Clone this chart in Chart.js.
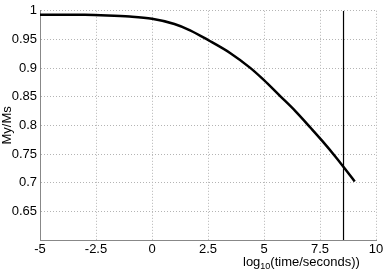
<!DOCTYPE html>
<html>
<head>
<meta charset="utf-8">
<script src="https://cdn.jsdelivr.net/npm/chart.js@4/dist/chart.umd.min.js"></script>
<style>
  html, body { margin: 0; padding: 0; background: #fff; }
  #wrap { width: 386px; height: 270px; }
</style>
</head>
<body>
<div id="wrap"><canvas id="chart"></canvas></div>
<script>
// curve: log10(time) vs My/Ms
const logTime = [-5, -4, -3, -2, -1, 0, 1, 1.7, 2.5, 3.5, 4.4, 5, 5.7, 6.4, 7.1, 7.6, 8.2, 8.7, 9.05];
const ratio = [0.993, 0.993, 0.993, 0.992, 0.99, 0.986, 0.977, 0.966, 0.949, 0.926, 0.9, 0.879, 0.852, 0.825, 0.795, 0.773, 0.745, 0.72, 0.702];
// vertical marker line
const markerX = 8.55;
const markerY = [0.6, 1.0];
const xTicks = [-5, -2.5, 0, 2.5, 5, 7.5, 10];
const yTicks = [0.6, 0.65, 0.7, 0.75, 0.8, 0.85, 0.9, 0.95, 1];

const font = "Liberation Sans, Arial, sans-serif";

const xTitle = {
    id: 'xTitle',
    afterDraw(chart) {
        const c = chart.ctx;
        c.save();
        c.fillStyle = '#000';
        c.textBaseline = 'alphabetic';
        let x = 243, y = 266;
        c.font = '13px ' + font;
        c.fillText('log', x, y);
        x += c.measureText('log').width;
        c.font = '9px ' + font;
        c.fillText('10', x, y + 3);
        x += c.measureText('10').width;
        c.font = '13px ' + font;
        c.fillText('(time/seconds))', x, y);
        c.restore();
    }
};

new Chart(document.getElementById('chart'), {
    type: 'scatter',
    data: {
        datasets: [
            {
                data: logTime.map((t, i) => ({ x: t, y: ratio[i] })),
                showLine: true,
                borderColor: '#000',
                borderWidth: 2.5,
                pointRadius: 0,
                cubicInterpolationMode: 'monotone'
            },
            {
                data: markerY.map(v => ({ x: markerX, y: v })),
                showLine: true,
                borderColor: '#000',
                borderWidth: 1.2,
                pointRadius: 0
            }
        ]
    },
    options: {
        responsive: true,
        maintainAspectRatio: false,
        animation: false,
        layout: { padding: { top: 7, right: 10, left: 0, bottom: 0 } },
        plugins: { legend: { display: false }, tooltip: { enabled: false } },
        scales: {
            x: {
                type: 'linear',
                min: -5,
                max: 10,
                afterBuildTicks: s => { s.ticks = xTicks.map(v => ({ value: v })); },
                afterFit: s => { s.height = 30; },
                ticks: {
                    color: '#000',
                    font: { family: font, size: 13 },
                    padding: 2,
                    callback: v => String(v)
                },
                grid: { color: '#b4b4b4', lineWidth: 1, drawTicks: false, tickLength: 0 },
                border: { color: '#888', dash: [1, 2], display: true }
            },
            y: {
                type: 'linear',
                min: 0.6,
                max: 1,
                afterBuildTicks: s => { s.ticks = yTicks.map(v => ({ value: v })); },
                afterFit: s => { s.width = 40; },
                ticks: {
                    color: '#000',
                    font: { family: font, size: 13 },
                    padding: 3,
                    callback: v => (Math.abs(v - 0.6) < 1e-6 ? '' : String(parseFloat(v.toFixed(2))))
                },
                title: {
                    display: true,
                    text: 'My/Ms',
                    color: '#000',
                    font: { family: font, size: 13 },
                    padding: 0
                },
                grid: { color: '#b4b4b4', lineWidth: 1, drawTicks: false, tickLength: 0 },
                border: { color: '#888', dash: [1, 2], display: true }
            }
        }
    },
    plugins: [xTitle]
});
</script>
</body>
</html>
